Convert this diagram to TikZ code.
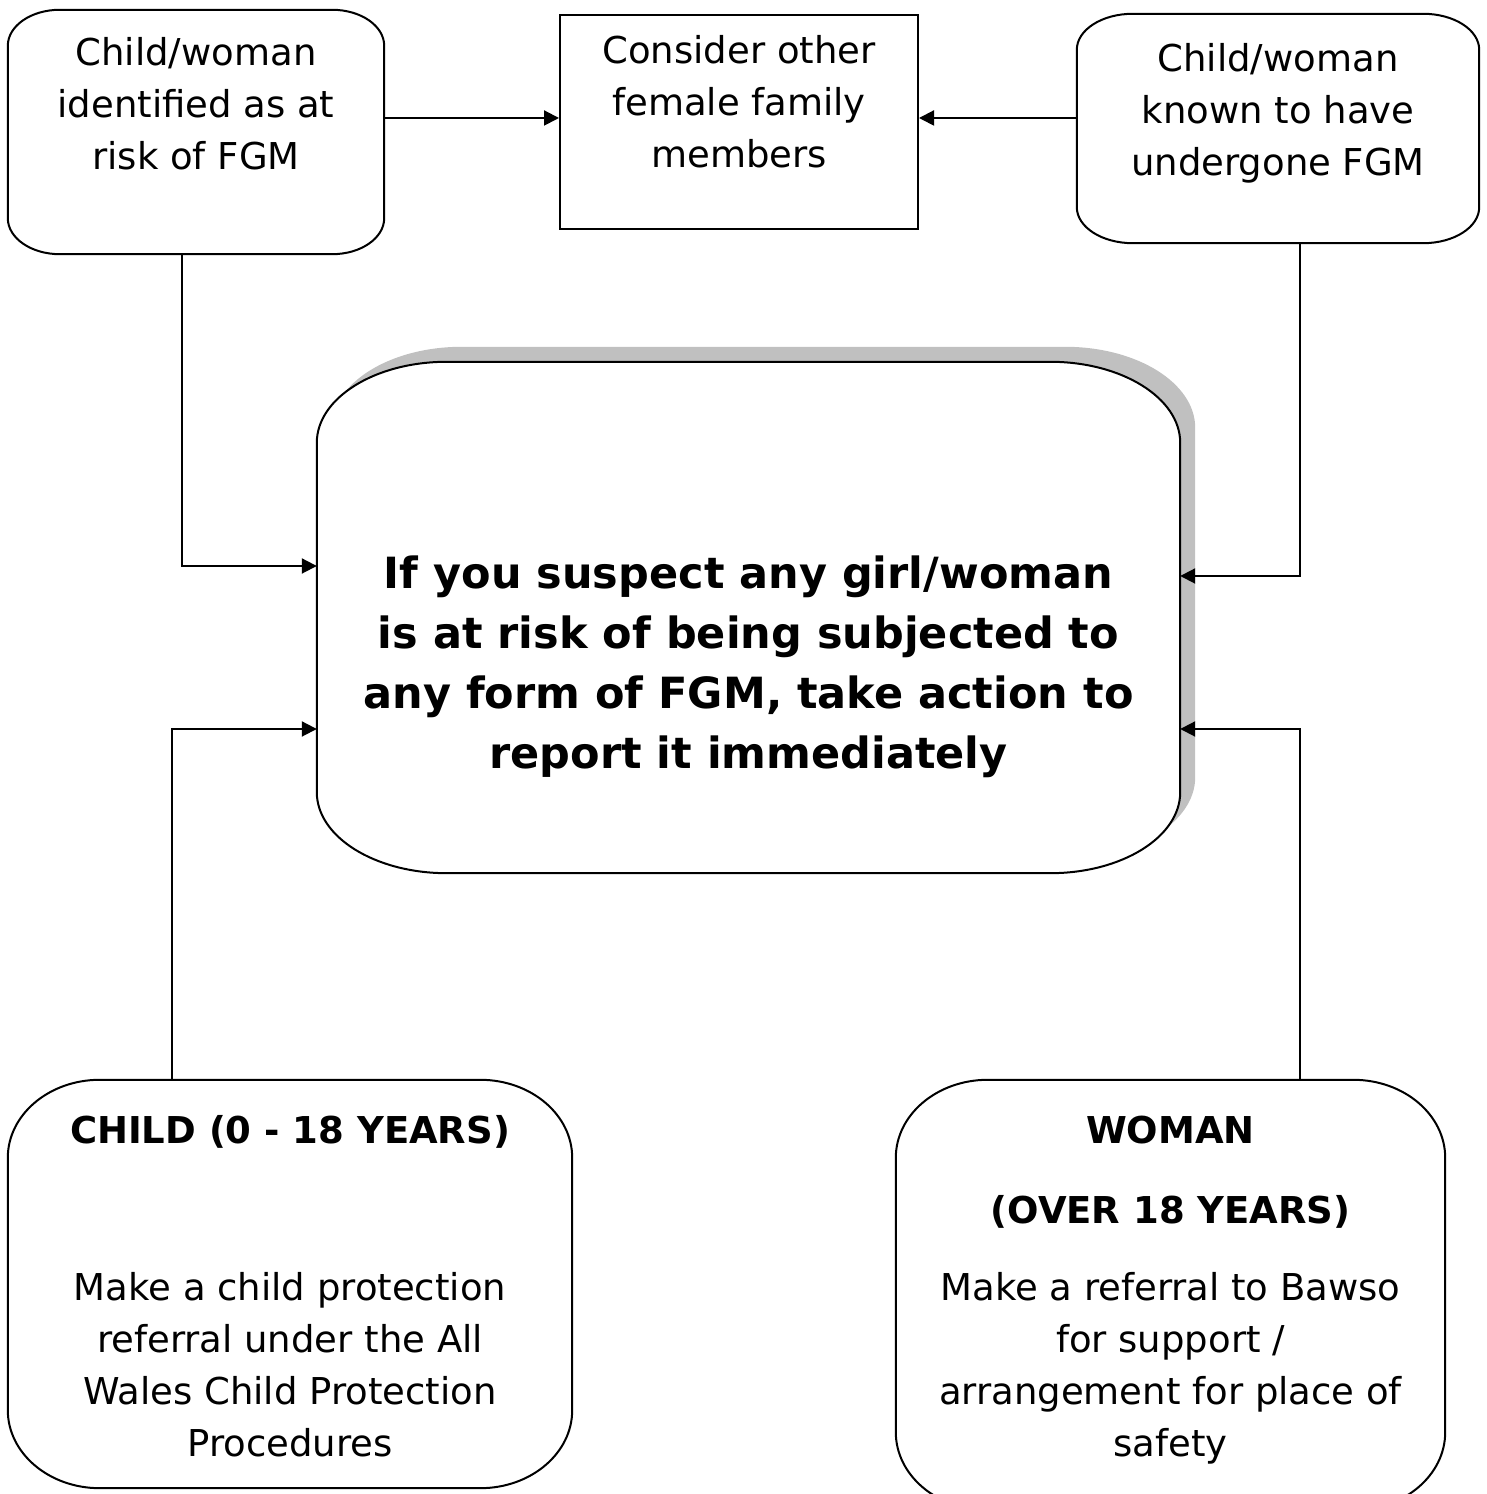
\documentclass[tikz,border=0pt]{standalone}
\usepackage{fontspec}
\setmainfont{DejaVu Sans}
\usetikzlibrary{positioning,arrows.meta}

\definecolor{shadow_grey}{RGB}{192,192,192}

% frame with elliptic corners round an empty node: style, node, x radius, y radius
\newcommand{\ovalframe}[4]{%
  \path[#1] ([xshift=#3pt]#2.north west) -- ([xshift=-#3pt]#2.north east)
    arc[start angle=90, end angle=0, x radius=#3pt, y radius=#4pt]
    -- ([yshift=#4pt]#2.south east)
    arc[start angle=0, end angle=-90, x radius=#3pt, y radius=#4pt]
    -- ([xshift=#3pt]#2.south west)
    arc[start angle=270, end angle=180, x radius=#3pt, y radius=#4pt]
    -- ([yshift=-#4pt]#2.north west)
    arc[start angle=180, end angle=90, x radius=#3pt, y radius=#4pt] -- cycle;}

\begin{document}
\begin{tikzpicture}[x=1pt, y=1pt,
frame/.style={rectangle, inner sep=0pt},
square/.style={rectangle, draw=black, line width=2pt, fill=white, inner sep=0pt},
outline/.style={draw=black, line width=2pt, fill=white},
shade_fill/.style={fill=shadow_grey},
body_text/.style={align=center, font=\fontsize{37}{52}\selectfont},
head_text/.style={align=center, font=\fontsize{37}{80}\selectfont\bfseries},
main_text/.style={align=center, font=\fontsize{43}{60}\selectfont\bfseries},
out_arrow/.style={-{Triangle[length=15pt,width=15pt]}, line width=2pt}
]
\useasboundingbox (0,0) rectangle (1486,1494);

% \node[frame, minimum width=w, minimum height=h](name_of_box) at (x,y) {};
\node[frame, minimum width=376pt, minimum height=244pt](identified_box) at (196,1362) {};
\node[square, minimum width=358pt, minimum height=214pt](others_box) at (739,1372) {};
\node[frame, minimum width=402pt, minimum height=229pt](known_box) at (1278,1365.5) {};

\node[frame, minimum width=863pt, minimum height=511pt](report_shadow) at (763.5,891.5) {};
\node[frame, minimum width=863pt, minimum height=511pt](report_box) at (748.5,876.5) {};

\node[frame, minimum width=564pt, minimum height=408pt](child_box) at (290,210) {};
\node[frame, minimum width=549pt, minimum height=430pt](woman_box) at (1170.5,199) {};

% \ovalframe{style}{name_of_box}{x radius}{y radius}
\ovalframe{outline}{identified_box}{52}{36}
\ovalframe{outline}{known_box}{56}{36}
\ovalframe{shade_fill}{report_shadow}{130}{81}
\ovalframe{outline}{report_box}{130}{81}
\ovalframe{outline}{child_box}{92}{78}
\ovalframe{outline}{woman_box}{92}{78}

% texts
\node[body_text](identified_text) at ([yshift=28pt]identified_box.center) {Child/woman\\identified as at\\risk of FGM};
\node[body_text](others_text) at ([yshift=20pt]others_box.center) {Consider other\\female family\\members};
\node[body_text](known_text) at ([yshift=15.5pt]known_box.center) {Child/woman\\known to have\\undergone FGM};

\node[main_text](report_text) at ([yshift=-49.5pt]report_box.center) {If you suspect any girl/woman\\is at risk of being subjected to\\any form of FGM, take action to\\report it immediately};

\node[head_text](child_head) at ([yshift=-52pt]child_box.north) {CHILD (0 - 18 YEARS)};
\node[body_text](child_text) at ([yshift=-81pt]child_box.center) {Make a child protection\\referral under the All\\Wales Child Protection\\Procedures};
\node[head_text](woman_head) at ([yshift=-92pt]woman_box.north) {WOMAN\\(OVER 18 YEARS)};
\node[body_text](woman_text) at ([yshift=-73pt]woman_box.center) {Make a referral to Bawso\\for support /\\arrangement for place of\\safety};

% \draw[out_arrow](name_of_box.direction) -- (name_of_box.direction)
% OR
% \draw[out_arrow](name_of_box.direction) |- (name_of_box.direction)
\draw[out_arrow]([yshift=14pt]identified_box.east) -- ([yshift=4pt]others_box.west);
\draw[out_arrow]([yshift=10.5pt]known_box.west) -- ([yshift=4pt]others_box.east);

\draw[out_arrow]([xshift=-14pt]identified_box.south) |- ([yshift=51.5pt]report_box.west);
\draw[out_arrow]([xshift=22pt]known_box.south) |- ([yshift=41.5pt]report_box.east);
\draw[out_arrow]([xshift=-118pt]child_box.north) |- ([yshift=-111.5pt]report_box.west);
\draw[out_arrow]([xshift=129.5pt]woman_box.north) |- ([yshift=-111.5pt]report_box.east);
\end{tikzpicture}
\end{document}
